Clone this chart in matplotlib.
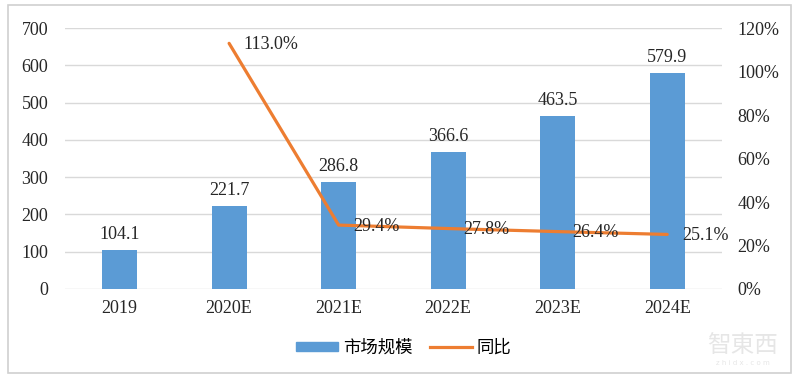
import matplotlib

matplotlib.use("Agg")
import matplotlib.pyplot as plt
from matplotlib.lines import Line2D
from matplotlib.patches import Patch, Rectangle

plt.rcParams["font.family"] = ["Liberation Serif", "Noto Sans CJK SC", "DejaVu Sans"]

categories = ["2019", "2020E", "2021E", "2022E", "2023E", "2024E"]
market_size = [104.1, 221.7, 286.8, 366.6, 463.5, 579.9]
yoy = [None, 113.0, 29.4, 27.8, 26.4, 25.1]  # percent
left_ticks = [0, 100, 200, 300, 400, 500, 600, 700]
right_ticks = [0, 20, 40, 60, 80, 100, 120]

BLUE = "#5B9BD5"
ORANGE = "#ED7D31"
GRID = "#D9D9D9"
FS = 13

fig = plt.figure(figsize=(8, 3.8), dpi=100)
ax = fig.add_axes([0.081, 0.2395, 0.8215, 0.6865])
ax2 = ax.twinx()

x = list(range(len(categories)))
ax.bar(x, market_size, width=0.32, color=BLUE, zorder=2)
for xi, v in zip(x, market_size):
    ax.annotate(f"{v:.1f}", (xi, v), xytext=(0, 5), textcoords="offset points",
                ha="center", va="bottom", fontsize=FS, color="#262626")

lx = [xi for xi, v in zip(x, yoy) if v is not None]
ly = [v for v in yoy if v is not None]
ax2.plot(lx, ly, color=ORANGE, lw=2.3, solid_capstyle="round", zorder=3)
for xi, v in zip(lx, ly):
    ax2.annotate(f"{v:.1f}%", (xi, v), xytext=(10.5, -1), textcoords="offset points",
                 ha="left", va="center", fontsize=FS, color="#262626")

ax.set_xlim(-0.5, len(categories) - 0.5)
ax.set_ylim(0, 700)
ax.set_yticks(left_ticks)
ax2.set_ylim(0, 120)
ax2.set_yticks(right_ticks)
ax2.set_yticklabels([f"{t}%" for t in right_ticks])
ax.set_xticks(x)
ax.set_xticklabels(categories)

ax.yaxis.grid(True, color=GRID, lw=1, zorder=0)
ax.set_axisbelow(True)
for a in (ax, ax2):
    for s in a.spines.values():
        s.set_visible(False)
    a.tick_params(length=0, labelsize=FS, colors="#262626")
ax.tick_params(axis="y", pad=12)
ax2.tick_params(axis="y", pad=11)
ax.tick_params(axis="x", pad=8)

handles = [Patch(color=BLUE), Line2D([0], [0], color=ORANGE, lw=2.3)]
fig.legend(handles, ["市场规模", "同比"], loc="center", bbox_to_anchor=(0.505, 0.085),
           ncol=2, frameon=False, handlelength=2.4, handleheight=0.5,
           columnspacing=1.0, handletextpad=0.3,
           prop={"family": ["Noto Sans CJK SC"], "size": 12.5})

# outer frame
fig.patches.append(Rectangle((0.010, 0.018), 0.979, 0.968, transform=fig.transFigure,
                             fill=False, edgecolor="#D0D0D0", lw=1.2))

# watermark
fig.text(0.928, 0.092, "智東西", ha="center", va="center", fontsize=17,
         color="#E6E6E6", family=["Noto Sans CJK SC"])
fig.text(0.928, 0.045, "z h i d x . c o m", ha="center", va="center", fontsize=5,
         color="#E6E6E6", family=["DejaVu Sans"])

fig.savefig("out.png", dpi=100)
